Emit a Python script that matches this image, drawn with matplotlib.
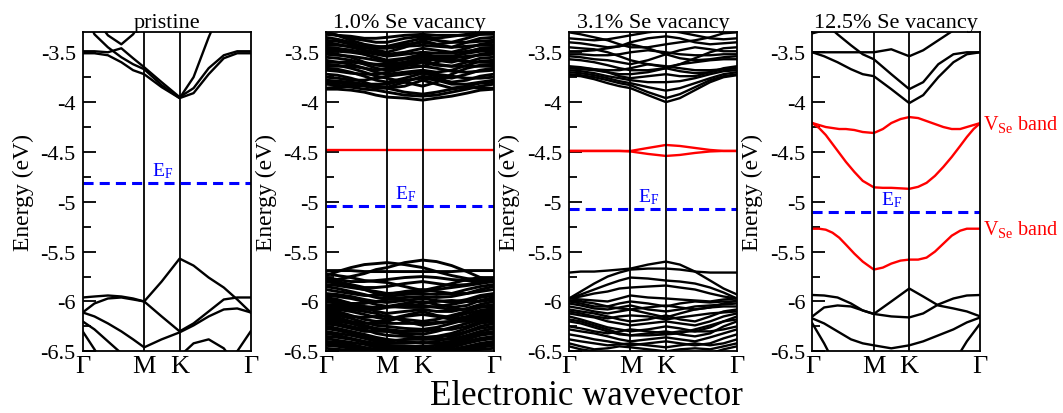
import matplotlib
matplotlib.use("Agg")
import matplotlib.pyplot as plt
from matplotlib.ticker import MultipleLocator, FuncFormatter

plt.rcParams['font.family'] = ['Liberation Serif', 'DejaVu Serif']
plt.rcParams['mathtext.fontset'] = 'custom'
plt.rcParams['mathtext.rm'] = 'Liberation Serif'
plt.rcParams['mathtext.it'] = 'Liberation Serif:italic'
plt.rcParams['axes.unicode_minus'] = False

# k-path sample positions (fraction of the Γ-M-K-Γ path)
KPTS = [0, 0.07, 0.15, 0.23, 0.30, 0.366, 0.47, 0.577, 0.66, 0.75, 0.84, 0.92, 1.0]
KPTS_FINE = [0, 0.04, 0.08, 0.12, 0.16, 0.20, 0.25, 0.30, 0.366, 0.42, 0.47, 0.525,
             0.577, 0.63, 0.68, 0.73, 0.78, 0.83, 0.88, 0.92, 0.96, 1.0]
HS_POS = [0, 0.366, 0.577, 1.0]
HS_LABELS = ['Γ', 'M', 'K', 'Γ']

TITLES = ['pristine', '1.0% Se vacancy', '3.1% Se vacancy', '12.5% Se vacancy']
EF = [-4.81, -5.045, -5.07, -5.105]

# pristine
bands_pristine = [
    [-2.90, -3.15, -3.33, -3.42, -3.32, -3.15, -3.00, -2.95, -2.95, -2.95, -2.95, -2.95, -2.95],
    [-3.05, -3.32, -3.45, -3.55, -3.62, -3.67, -3.83, -3.96, -3.75, -3.35, -3.00, -2.90, -2.85],
    [-3.49, -3.49, -3.50, -3.46, -3.56, -3.65, -3.80, -3.95, -3.86, -3.66, -3.53, -3.49, -3.49],
    [-3.51, -3.51, -3.53, -3.60, -3.68, -3.72, -3.85, -3.96, -3.91, -3.72, -3.56, -3.51, -3.51],
    [-5.96, -5.95, -5.94, -5.95, -5.97, -6.00, -6.15, -6.30, -6.22, -6.10, -5.98, -5.96, -5.96],
    [-6.11, -6.02, -5.97, -5.96, -5.98, -6.00, -5.80, -5.57, -5.64, -5.76, -5.86, -5.98, -6.11],
    [-6.11, -6.15, -6.22, -6.30, -6.38, -6.46, -6.38, -6.31, -6.24, -6.15, -6.08, -6.07, -6.11],
    [-6.20, -6.28, -6.40, -6.52, -6.65, -6.75, -6.80, -6.80, -6.80, -6.80, -6.80, -6.80, -6.80],
    [-6.30, -6.48, -6.70, -6.90, -6.90, -6.90, -6.90, -6.90, -6.90, -6.90, -6.90, -6.90, -6.90],
    [-6.90, -6.90, -6.90, -6.90, -6.90, -6.90, -6.75, -6.55, -6.42, -6.38, -6.47, -6.65, -6.85],
    [-6.90, -6.90, -6.90, -6.90, -6.90, -6.90, -6.90, -6.90, -6.90, -6.90, -6.85, -6.50, -6.30],
]
defect_pristine = []

# 1.0 % Se vacancy
bands_vac1 = [
    [-3.87, -3.87, -3.88, -3.90, -3.93, -3.95, -3.96, -3.98, -3.96, -3.94, -3.91, -3.88, -3.87],
    [-3.86, -3.85, -3.84, -3.83, -3.84, -3.86, -3.90, -3.92, -3.90, -3.87, -3.85, -3.86, -3.86],
    [-3.82, -3.83, -3.85, -3.87, -3.88, -3.90, -3.93, -3.94, -3.93, -3.90, -3.87, -3.84, -3.82],
    [-3.80, -3.81, -3.82, -3.84, -3.86, -3.86, -3.84, -3.78, -3.82, -3.86, -3.84, -3.81, -3.80],
    [-3.78, -3.79, -3.80, -3.82, -3.82, -3.82, -3.78, -3.76, -3.78, -3.82, -3.82, -3.80, -3.78],
    [-3.75, -3.76, -3.78, -3.78, -3.76, -3.74, -3.72, -3.70, -3.72, -3.74, -3.76, -3.76, -3.75],
    [-3.72, -3.73, -3.76, -3.80, -3.84, -3.85, -3.80, -3.74, -3.76, -3.80, -3.78, -3.74, -3.72],
    [-3.68, -3.69, -3.71, -3.72, -3.72, -3.70, -3.66, -3.64, -3.66, -3.69, -3.70, -3.69, -3.68],
    [-3.66, -3.67, -3.70, -3.74, -3.78, -3.80, -3.76, -3.71, -3.74, -3.76, -3.72, -3.68, -3.66],
    [-3.64, -3.64, -3.64, -3.66, -3.68, -3.66, -3.62, -3.58, -3.62, -3.64, -3.64, -3.64, -3.64],
    [-3.62, -3.63, -3.66, -3.70, -3.74, -3.76, -3.80, -3.84, -3.80, -3.72, -3.66, -3.63, -3.62],
    [-3.60, -3.60, -3.60, -3.61, -3.62, -3.62, -3.60, -3.58, -3.57, -3.58, -3.59, -3.60, -3.60],
    [-3.58, -3.60, -3.62, -3.66, -3.70, -3.72, -3.70, -3.68, -3.70, -3.68, -3.63, -3.59, -3.58],
    [-3.55, -3.56, -3.58, -3.62, -3.66, -3.68, -3.64, -3.60, -3.63, -3.64, -3.60, -3.56, -3.55],
    [-3.52, -3.53, -3.54, -3.56, -3.58, -3.60, -3.57, -3.54, -3.55, -3.56, -3.54, -3.53, -3.52],
    [-3.50, -3.52, -3.55, -3.60, -3.63, -3.64, -3.60, -3.55, -3.58, -3.60, -3.56, -3.52, -3.50],
    [-3.48, -3.49, -3.50, -3.52, -3.55, -3.58, -3.56, -3.52, -3.54, -3.54, -3.51, -3.49, -3.48],
    [-3.46, -3.47, -3.48, -3.50, -3.52, -3.54, -3.52, -3.50, -3.51, -3.51, -3.49, -3.47, -3.46],
    [-3.45, -3.46, -3.48, -3.52, -3.56, -3.60, -3.62, -3.64, -3.60, -3.55, -3.50, -3.46, -3.45],
    [-3.43, -3.43, -3.44, -3.46, -3.46, -3.46, -3.44, -3.43, -3.44, -3.45, -3.44, -3.43, -3.43],
    [-3.40, -3.42, -3.45, -3.48, -3.50, -3.52, -3.50, -3.46, -3.48, -3.50, -3.46, -3.42, -3.40],
    [-3.38, -3.39, -3.42, -3.44, -3.45, -3.44, -3.40, -3.36, -3.38, -3.40, -3.40, -3.39, -3.38],
    [-3.35, -3.37, -3.40, -3.45, -3.48, -3.50, -3.45, -3.38, -3.42, -3.45, -3.40, -3.36, -3.35],
    [-3.32, -3.33, -3.34, -3.36, -3.36, -3.35, -3.33, -3.32, -3.33, -3.33, -3.33, -3.32, -3.32],
    [-3.30, -3.33, -3.38, -3.42, -3.44, -3.45, -3.42, -3.40, -3.42, -3.40, -3.36, -3.32, -3.30],
    [-3.30, -3.33, -3.36, -3.38, -3.40, -3.40, -3.36, -3.34, -3.36, -3.34, -3.32, -3.30, -3.30],
    [-5.74, -5.70, -5.66, -5.63, -5.62, -5.61, -5.63, -5.66, -5.70, -5.74, -5.77, -5.79, -5.80],
    [-5.80, -5.78, -5.75, -5.72, -5.68, -5.66, -5.61, -5.585, -5.60, -5.64, -5.70, -5.76, -5.80],
    [-5.69, -5.69, -5.69, -5.70, -5.70, -5.70, -5.70, -5.70, -5.70, -5.70, -5.69, -5.69, -5.69],
    [-5.72, -5.74, -5.76, -5.79, -5.80, -5.81, -5.85, -5.89, -5.86, -5.82, -5.78, -5.76, -5.76],
    [-5.76, -5.78, -5.80, -5.80, -5.79, -5.78, -5.76, -5.75, -5.76, -5.78, -5.79, -5.79, -5.78],
    [-5.78, -5.80, -5.83, -5.86, -5.86, -5.85, -5.82, -5.80, -5.82, -5.84, -5.83, -5.80, -5.78],
    [-5.80, -5.82, -5.85, -5.88, -5.90, -5.92, -5.91, -5.90, -5.88, -5.86, -5.84, -5.82, -5.80],
    [-5.83, -5.84, -5.86, -5.88, -5.92, -5.95, -5.93, -5.92, -5.93, -5.92, -5.88, -5.85, -5.83],
    [-5.85, -5.87, -5.90, -5.93, -5.96, -5.97, -5.96, -5.95, -5.96, -5.95, -5.92, -5.88, -5.85],
    [-5.88, -5.90, -5.92, -5.94, -5.94, -5.93, -5.90, -5.88, -5.90, -5.92, -5.92, -5.90, -5.88],
    [-5.92, -5.93, -5.95, -5.98, -6.00, -6.01, -5.99, -5.97, -5.99, -6.01, -5.98, -5.94, -5.92],
    [-5.94, -5.95, -5.97, -6.00, -6.03, -6.05, -6.06, -6.06, -6.05, -6.03, -6.00, -5.96, -5.94],
    [-5.96, -5.98, -6.02, -6.05, -6.06, -6.05, -6.02, -6.00, -6.03, -6.06, -6.04, -5.99, -5.96],
    [-5.98, -6.00, -6.02, -6.02, -6.00, -5.98, -5.98, -6.02, -6.00, -5.99, -6.00, -6.00, -5.98],
    [-6.00, -6.02, -6.04, -6.06, -6.10, -6.12, -6.10, -6.08, -6.10, -6.10, -6.07, -6.03, -6.00],
    [-6.03, -6.04, -6.06, -6.08, -6.08, -6.06, -6.04, -6.04, -6.06, -6.08, -6.08, -6.05, -6.03],
    [-6.05, -6.06, -6.08, -6.10, -6.12, -6.16, -6.18, -6.20, -6.18, -6.14, -6.10, -6.06, -6.05],
    [-6.07, -6.08, -6.10, -6.13, -6.16, -6.18, -6.14, -6.10, -6.14, -6.16, -6.12, -6.09, -6.07],
    [-6.08, -6.10, -6.14, -6.18, -6.20, -6.20, -6.15, -6.13, -6.15, -6.18, -6.15, -6.10, -6.08],
    [-6.10, -6.12, -6.15, -6.16, -6.15, -6.14, -6.20, -6.24, -6.22, -6.20, -6.17, -6.12, -6.10],
    [-6.12, -6.14, -6.17, -6.21, -6.24, -6.25, -6.27, -6.28, -6.26, -6.22, -6.18, -6.14, -6.12],
    [-6.14, -6.16, -6.20, -6.22, -6.22, -6.22, -6.22, -6.22, -6.21, -6.20, -6.20, -6.16, -6.14],
    [-6.16, -6.18, -6.22, -6.26, -6.28, -6.30, -6.32, -6.33, -6.30, -6.26, -6.22, -6.18, -6.16],
    [-6.18, -6.20, -6.22, -6.24, -6.27, -6.28, -6.30, -6.30, -6.28, -6.28, -6.25, -6.20, -6.18],
    [-6.20, -6.22, -6.25, -6.28, -6.32, -6.34, -6.35, -6.36, -6.35, -6.32, -6.27, -6.22, -6.20],
    [-6.22, -6.24, -6.27, -6.30, -6.30, -6.30, -6.33, -6.38, -6.36, -6.34, -6.30, -6.25, -6.22],
    [-6.25, -6.27, -6.30, -6.33, -6.36, -6.38, -6.40, -6.42, -6.40, -6.36, -6.31, -6.27, -6.25],
    [-6.27, -6.29, -6.32, -6.35, -6.38, -6.40, -6.38, -6.38, -6.38, -6.38, -6.34, -6.30, -6.27],
    [-6.30, -6.32, -6.34, -6.37, -6.40, -6.42, -6.42, -6.41, -6.42, -6.40, -6.36, -6.32, -6.30],
    [-6.32, -6.34, -6.37, -6.40, -6.42, -6.44, -6.45, -6.45, -6.44, -6.42, -6.38, -6.34, -6.32],
    [-6.35, -6.36, -6.38, -6.41, -6.44, -6.46, -6.47, -6.48, -6.46, -6.44, -6.40, -6.37, -6.35],
    [-6.37, -6.39, -6.41, -6.43, -6.46, -6.48, -6.48, -6.46, -6.48, -6.46, -6.42, -6.39, -6.37],
    [-6.40, -6.41, -6.43, -6.46, -6.48, -6.49, -6.50, -6.50, -6.49, -6.48, -6.45, -6.42, -6.40],
    [-6.42, -6.43, -6.45, -6.48, -6.49, -6.47, -6.46, -6.48, -6.49, -6.49, -6.47, -6.44, -6.42],
    [-6.44, -6.45, -6.47, -6.49, -6.50, -6.52, -6.55, -6.55, -6.54, -6.52, -6.49, -6.46, -6.44],
    [-6.47, -6.48, -6.49, -6.50, -6.50, -6.50, -6.50, -6.50, -6.50, -6.50, -6.50, -6.48, -6.47],
]
defect_vac1 = [
    [-4.48, -4.48, -4.48, -4.48, -4.48, -4.48, -4.48, -4.48, -4.48, -4.48, -4.48, -4.48, -4.48],
]

# 3.1 % Se vacancy
bands_vac3 = [
    [-3.73, -3.74, -3.77, -3.81, -3.84, -3.86, -3.93, -4.00, -3.96, -3.88, -3.80, -3.75, -3.73],
    [-3.72, -3.73, -3.75, -3.78, -3.81, -3.83, -3.90, -3.96, -3.92, -3.85, -3.78, -3.74, -3.72],
    [-3.70, -3.71, -3.73, -3.76, -3.79, -3.81, -3.85, -3.885, -3.86, -3.81, -3.76, -3.72, -3.70],
    [-3.68, -3.69, -3.71, -3.74, -3.76, -3.78, -3.80, -3.80, -3.79, -3.76, -3.72, -3.69, -3.68],
    [-3.66, -3.67, -3.68, -3.70, -3.72, -3.72, -3.70, -3.66, -3.69, -3.71, -3.70, -3.67, -3.66],
    [-3.66, -3.66, -3.67, -3.68, -3.68, -3.66, -3.62, -3.64, -3.66, -3.68, -3.68, -3.67, -3.66],
    [-3.64, -3.65, -3.67, -3.70, -3.74, -3.76, -3.74, -3.72, -3.74, -3.74, -3.70, -3.66, -3.64],
    [-3.57, -3.58, -3.60, -3.63, -3.66, -3.68, -3.68, -3.66, -3.62, -3.60, -3.58, -3.57, -3.57],
    [-3.54, -3.55, -3.57, -3.58, -3.60, -3.62, -3.58, -3.52, -3.56, -3.58, -3.57, -3.55, -3.54],
    [-3.52, -3.52, -3.53, -3.53, -3.52, -3.50, -3.48, -3.50, -3.52, -3.53, -3.53, -3.52, -3.52],
    [-3.49, -3.49, -3.48, -3.46, -3.44, -3.42, -3.46, -3.52, -3.48, -3.45, -3.47, -3.49, -3.49],
    [-3.45, -3.46, -3.47, -3.50, -3.54, -3.58, -3.62, -3.65, -3.62, -3.56, -3.50, -3.46, -3.45],
    [-3.40, -3.41, -3.43, -3.45, -3.44, -3.40, -3.36, -3.34, -3.36, -3.40, -3.42, -3.41, -3.40],
    [-3.36, -3.37, -3.38, -3.37, -3.35, -3.33, -3.30, -3.28, -3.30, -3.33, -3.36, -3.37, -3.36],
    [-3.30, -3.32, -3.35, -3.38, -3.42, -3.45, -3.45, -3.42, -3.40, -3.38, -3.35, -3.31, -3.30],
    [-5.71, -5.70, -5.70, -5.69, -5.68, -5.67, -5.63, -5.60, -5.63, -5.70, -5.79, -5.87, -5.93],
    [-5.97, -5.90, -5.82, -5.75, -5.71, -5.68, -5.67, -5.67, -5.68, -5.70, -5.71, -5.71, -5.71],
    [-5.97, -5.93, -5.88, -5.83, -5.79, -5.76, -5.77, -5.79, -5.80, -5.82, -5.86, -5.91, -5.97],
    [-5.97, -5.95, -5.92, -5.90, -5.87, -5.86, -5.85, -5.84, -5.86, -5.88, -5.92, -5.95, -5.97],
    [-5.97, -5.98, -5.99, -6.00, -5.97, -5.94, -5.96, -5.97, -5.98, -5.99, -6.00, -5.98, -5.97],
    [-5.99, -6.00, -6.02, -6.05, -6.07, -6.08, -6.06, -6.04, -6.06, -6.08, -6.06, -6.02, -5.99],
    [-6.00, -6.02, -6.05, -6.05, -6.02, -6.00, -6.02, -6.05, -6.02, -6.00, -6.01, -6.00, -6.00],
    [-6.02, -6.04, -6.07, -6.08, -6.06, -6.04, -6.08, -6.10, -6.08, -6.05, -6.04, -6.03, -6.02],
    [-6.05, -6.07, -6.10, -6.12, -6.10, -6.08, -6.12, -6.16, -6.12, -6.08, -6.06, -6.05, -6.05],
    [-6.08, -6.10, -6.12, -6.15, -6.18, -6.20, -6.18, -6.14, -6.18, -6.20, -6.15, -6.10, -6.08],
    [-6.10, -6.12, -6.15, -6.17, -6.15, -6.14, -6.15, -6.18, -6.16, -6.14, -6.12, -6.11, -6.10],
    [-6.12, -6.14, -6.16, -6.20, -6.22, -6.24, -6.22, -6.20, -6.22, -6.24, -6.20, -6.15, -6.12],
    [-6.15, -6.18, -6.22, -6.26, -6.28, -6.30, -6.28, -6.25, -6.27, -6.30, -6.26, -6.20, -6.15],
    [-6.18, -6.20, -6.24, -6.28, -6.32, -6.34, -6.34, -6.33, -6.32, -6.28, -6.24, -6.20, -6.18],
    [-6.20, -6.22, -6.26, -6.30, -6.33, -6.34, -6.32, -6.30, -6.33, -6.35, -6.32, -6.25, -6.20],
    [-6.25, -6.27, -6.30, -6.32, -6.30, -6.28, -6.30, -6.32, -6.30, -6.30, -6.30, -6.28, -6.25],
    [-6.28, -6.30, -6.32, -6.35, -6.38, -6.40, -6.38, -6.36, -6.38, -6.40, -6.36, -6.32, -6.28],
    [-6.33, -6.35, -6.38, -6.40, -6.42, -6.44, -6.42, -6.40, -6.42, -6.44, -6.42, -6.37, -6.33],
    [-6.38, -6.40, -6.42, -6.44, -6.43, -6.42, -6.44, -6.46, -6.44, -6.42, -6.44, -6.42, -6.38],
    [-6.42, -6.45, -6.48, -6.47, -6.45, -6.46, -6.48, -6.50, -6.48, -6.47, -6.48, -6.45, -6.42],
    [-6.45, -6.48, -6.50, -6.53, -6.55, -6.55, -6.55, -6.55, -6.55, -6.53, -6.52, -6.48, -6.45],
]
defect_vac3 = [
    [-4.49, -4.49, -4.49, -4.49, -4.49, -4.49, -4.46, -4.43, -4.44, -4.46, -4.48, -4.49, -4.49],
    [-4.49, -4.49, -4.49, -4.49, -4.49, -4.495, -4.52, -4.54, -4.53, -4.51, -4.495, -4.49, -4.49],
]

# 12.5 % Se vacancy
bands_vac12 = [
    [-3.31, -3.28, -3.20, -3.10, -3.00, -2.95, -2.95, -2.95, -2.95, -2.95, -2.95, -2.95, -2.95],
    [-3.50, -3.50, -3.50, -3.50, -3.50, -3.50, -3.47, -3.54, -3.48, -3.38, -3.28, -3.20, -3.15],
    [-3.10, -3.20, -3.32, -3.43, -3.52, -3.57, -3.72, -3.87, -3.80, -3.62, -3.52, -3.50, -3.50],
    [-3.50, -3.54, -3.60, -3.67, -3.72, -3.74, -3.87, -4.01, -3.93, -3.75, -3.60, -3.52, -3.50],
    [-5.935, -5.94, -5.96, -6.02, -6.09, -6.125, -6.00, -5.87, -5.95, -6.04, -6.07, -6.10, -6.15],
    [-6.15, -6.06, -6.04, -6.05, -6.09, -6.125, -6.15, -6.16, -6.12, -6.03, -5.97, -5.94, -5.935],
    [-6.17, -6.22, -6.30, -6.38, -6.42, -6.44, -6.47, -6.44, -6.40, -6.34, -6.28, -6.21, -6.16],
    [-6.22, -6.42, -6.68, -6.90, -7.00, -7.00, -7.00, -7.00, -7.00, -6.90, -6.62, -6.40, -6.22],
]
# defect bands of the 12.5 % cell, read on the finer k grid
defect_vac12 = [
    [-4.21, -4.23, -4.25, -4.26, -4.27, -4.27, -4.28, -4.30, -4.31, -4.27, -4.21,
     -4.17, -4.15, -4.16, -4.19, -4.22, -4.25, -4.27, -4.27, -4.25, -4.23, -4.21],
    [-4.21, -4.26, -4.33, -4.42, -4.51, -4.60, -4.70, -4.79, -4.855, -4.86, -4.86,
     -4.865, -4.87, -4.85, -4.81, -4.74, -4.65, -4.55, -4.44, -4.35, -4.27, -4.21],
    [-5.27, -5.27, -5.28, -5.31, -5.36, -5.43, -5.52, -5.60, -5.68, -5.66, -5.62,
     -5.59, -5.58, -5.58, -5.56, -5.50, -5.42, -5.34, -5.29, -5.27, -5.27, -5.27],
]
vse_labels = [-4.21, -5.27]

all_bands = [bands_pristine, bands_vac1, bands_vac3, bands_vac12]
all_defects = [defect_pristine, defect_vac1, defect_vac3, defect_vac12]
defect_k = [KPTS, KPTS, KPTS, KPTS_FINE]
band_lw = [1.7, 2.1, 1.7, 1.7]

fig = plt.figure(figsize=(10.63, 4.14), dpi=100)
lefts = [0.0778, 0.3064, 0.5353, 0.7642]

for i in range(4):
    ax = fig.add_axes([lefts[i], 0.149, 0.158, 0.7705])
    for b in all_bands[i]:
        ax.plot(KPTS, b, color='black', lw=band_lw[i], solid_joinstyle='round')
    for b in all_defects[i]:
        ax.plot(defect_k[i], b, color='red', lw=1.7, solid_joinstyle='round')
    for xv in HS_POS[1:3]:
        ax.axvline(xv, color='black', lw=1.3)
    ax.axhline(EF[i], color='blue', lw=2.2, dashes=(3.3, 2.0))
    ax.text(0.41, EF[i] + 0.03, r'E$_{\mathrm{F}}$', color='blue', fontsize=14,
            ha='left', va='bottom')

    ax.set_xlim(0, 1)
    ax.set_ylim(-6.5, -3.3)
    ax.set_xticks(HS_POS)
    ax.set_xticklabels(HS_LABELS, fontsize=19)
    ax.tick_params(axis='x', length=0, pad=3)
    ax.yaxis.set_major_locator(MultipleLocator(0.5))
    ax.yaxis.set_minor_locator(MultipleLocator(0.25))
    ax.yaxis.set_major_formatter(FuncFormatter(lambda v, p: '%g' % v))
    ax.tick_params(axis='y', which='major', direction='in', length=9, width=1.3,
                   labelsize=16, pad=5)
    ax.tick_params(axis='y', which='minor', direction='in', length=6, width=1.3)
    ax.set_ylabel('Energy (eV)', fontsize=17, labelpad=5)
    ax.set_title(TITLES[i], fontsize=16, pad=3)
    for sp in ax.spines.values():
        sp.set_linewidth(1.3)

    if i == 3:
        for yv in vse_labels:
            ax.text(1.015, yv, r'V$_{\mathrm{Se}}$ band', color='red', fontsize=14.5,
                    ha='left', va='center', transform=ax.get_yaxis_transform(),
                    clip_on=False)

fig.text(0.552, 0.022, 'Electronic wavevector', fontsize=25, ha='center', va='baseline')

fig.savefig('out.png', dpi=100)
